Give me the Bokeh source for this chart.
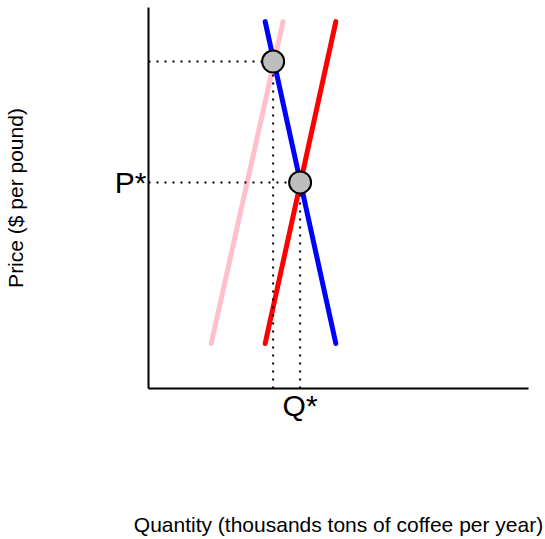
from bokeh.plotting import figure
from bokeh.models import Range1d, FixedTicker
from bokeh.embed import file_html
from bokeh.resources import INLINE

# data (arbitrary units, 0-100 on both axes)
demand_q = [30.7, 49.3]
demand_p = [96.3, 11.8]
supply_q = [30.7, 49.3]
supply_p = [11.8, 96.3]
old_supply_q = [16.5, 35.4]
old_supply_p = [11.8, 96.3]
eq_q = [32.8, 39.9]
eq_p = [85.8, 54.1]
q_star = 39.9
p_star = 54.1
x_label = "Quantity (thousands tons of coffee per year)"
y_label = "Price ($ per pound)"

FONT = "Liberation Sans"

p = figure(width=545, height=539, output_backend="svg", toolbar_location=None,
           x_range=Range1d(0, 100), y_range=Range1d(0, 100),
           min_border_left=147, min_border_right=17, min_border_top=7,
           min_border_bottom=151)
p.grid.visible = False
p.outline_line_color = None
p.background_fill_color = "white"
p.border_fill_color = "white"

for ax in (p.xaxis[0], p.yaxis[0]):
    ax.axis_line_width = 2
    ax.axis_line_color = "black"
    ax.major_tick_line_color = None
    ax.minor_tick_line_color = None
    ax.major_tick_out = 0
    ax.major_tick_in = 0
    ax.minor_tick_out = 0
    ax.major_label_text_font = FONT
    ax.major_label_text_font_size = "30px"
    ax.major_label_text_color = "black"
    ax.axis_label_text_font = FONT
    ax.axis_label_text_font_size = "21px"
    ax.axis_label_text_font_style = "normal"
    ax.axis_label_text_color = "black"

p.xaxis.ticker = FixedTicker(ticks=[q_star])
p.xaxis.major_label_overrides = {q_star: "Q*"}
p.xaxis.major_label_standoff = 0
p.xaxis.axis_label = x_label
p.xaxis.axis_label_standoff = 88

p.yaxis.ticker = FixedTicker(ticks=[p_star])
p.yaxis.major_label_overrides = {p_star: "P*"}
p.yaxis.major_label_standoff = 2
p.yaxis.major_label_orientation = "horizontal"
p.yaxis.axis_label = y_label
p.yaxis.axis_label_standoff = 85

p.line(old_supply_q, old_supply_p, line_color="pink", line_width=5, line_cap="round")
p.line(demand_q, demand_p, line_color="blue", line_width=5, line_cap="round")
p.line(supply_q, supply_p, line_color="red", line_width=5, line_cap="round")

for q, pr in zip(eq_q, eq_p):
    p.line([0, q], [pr, pr], line_color="black", line_width=2, line_dash="2 6")
    p.line([q, q], [0, pr], line_color="black", line_width=2, line_dash="2 6")

p.scatter(eq_q, eq_p, size=22, fill_color="#bebebe", line_color="black", line_width=2)

open("out.html", "w").write(file_html(p, INLINE))
